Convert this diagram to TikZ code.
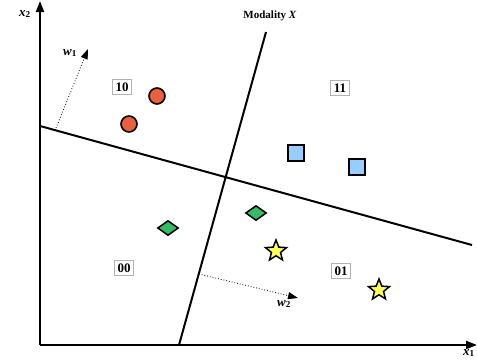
\documentclass[tikz,border=0pt]{standalone}
\usepackage{amsmath,amssymb}
\usepackage{fontspec}
\setmainfont{Liberation Serif}
\usetikzlibrary{arrows,arrows.meta,shapes.geometric}

\definecolor{dotred}{HTML}{E8603C}
\definecolor{dotblue}{HTML}{99CCFF}
\definecolor{dotgreen}{HTML}{33BB66}
\definecolor{dotyellow}{HTML}{FFFF55}

\newcommand{\bvec}[2]{\textbf{\textit{#1}}\textsubscript{\textbf{#2}}}

\begin{document}
\begin{tikzpicture}[x=1pt,y=-1pt,
axis/.style={-{Triangle[length=11pt,width=8pt]},line width=2pt},
border/.style={line width=2pt},
normal/.style={-{Triangle[length=10pt,width=7pt]},dotted,line width=0.8pt},
region/.style={draw=black!30,line width=0.8pt,fill=white,font=\fontsize{13}{15}\selectfont\bfseries,inner sep=3pt},
lbl/.style={font=\fontsize{13}{15}\selectfont,inner sep=1pt},
circ/.style={circle,draw,line width=1.6pt,fill=dotred,minimum width=16pt,minimum height=15pt,inner sep=0pt},
sq/.style={rectangle,draw,line width=1.6pt,fill=dotblue,minimum size=16pt,inner sep=0pt},
dia/.style={diamond,draw,line width=1.5pt,fill=dotgreen,minimum width=21pt,minimum height=15pt,inner sep=0pt},
st/.style={star,star points=5,star point ratio=2.3,draw,line width=1.5pt,fill=dotyellow,minimum size=22pt,inner sep=0pt} ]

\useasboundingbox (0,0) rectangle (477,360);

\coordinate (O) at (40,345);
\coordinate (X1) at (477,345);
\coordinate (X2) at (40,1);

\draw[axis] (O) -- (X1);
\draw[axis] (O) -- (X2);

\node[lbl] (x1) at (469,353) {\bvec{x}{1}};
\node[lbl] (x2) at (25,14) {\bvec{x}{2}};

\coordinate (A1) at (40,126);
\coordinate (A2) at (472,245);
\coordinate (B1) at (179,345);
\coordinate (B2) at (266,32);

\draw[border] (A1) -- (A2);
\draw[border] (B1) -- (B2);

\node[font=\fontsize{11}{13}\selectfont\bfseries] (modx) at (270,16) {Modality \textit{X}};

\coordinate (W1s) at (56,128);
\coordinate (W1e) at (88,49);
\coordinate (W2s) at (199,274);
\coordinate (W2e) at (298,298);
\draw[normal] (W1s) -- (W1e);
\draw[normal] (W2s) -- (W2e);
\node[lbl] (w1) at (70,53) {\bvec{w}{1}};
\node[lbl] (w2) at (284,304) {\bvec{w}{2}};

\node[region] (r10) at (122,87) {10};
\node[region] (r11) at (340,88) {11};
\node[region] (r00) at (124,268) {00};
\node[region] (r01) at (341,271) {01};

\node[circ] (c1) at (157,96) {};
\node[circ] (c2) at (129,124) {};
\node[sq] (s1) at (296,153) {};
\node[sq] (s2) at (357,167) {};
\node[dia] (d1) at (168,228) {};
\node[dia] (d2) at (256,213) {};
\node[st] (t1) at (276,251) {};
\node[st] (t2) at (379,290) {};

\end{tikzpicture}
\end{document}
